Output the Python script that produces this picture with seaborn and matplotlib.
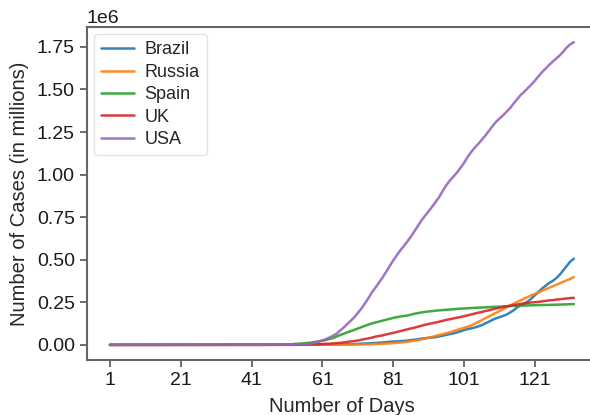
import numpy as np
import pandas as pd
import matplotlib
matplotlib.use("Agg")
import matplotlib.pyplot as plt
import seaborn as sns

countries = ["Brazil", "Russia", "Spain", "UK", "USA"]

# cumulative cases in thousands, day 1 .. day 132
zeros_40 = [0.0] * 40

brazil = zeros_40 + [
    0.0, 0.0, 0.0, 0.0, 0.0, 0.0, 0.0, 0.0, 0.0, 0.0, 0.0, 0.1, 0.2, 0.2, 0.2, 0.2,
    0.3, 0.4, 0.6, 0.8, 1.0, 1.5, 1.9, 2.2, 2.6, 3.0, 3.4, 3.9, 4.3, 4.6, 5.7,
    6.8, 8.0, 9.1, 10.4, 11.1, 12.2, 14.0, 16.2, 18.1, 19.6, 20.7, 22.2, 23.4, 25.3, 28.3,
    30.4, 33.7, 36.7, 38.7, 40.7, 43.1, 45.8, 50.0, 54.0, 59.3, 63.1, 67.4, 73.2, 79.7, 87.2,
    92.2, 97.1, 101.8, 108.6, 115.5, 126.6, 135.8, 146.9, 156.1, 162.7, 169.6, 178.2, 190.1,
    203.2, 220.3, 233.5, 241.1, 255.4, 271.9, 291.6, 310.1, 330.9, 347.4, 363.2, 374.9,
    391.2, 411.8, 438.2, 465.2, 490.0, 506.0]

russia = zeros_40 + [
    0.0, 0.0, 0.0, 0.0, 0.0, 0.0, 0.0, 0.0, 0.0, 0.0, 0.0, 0.0, 0.0, 0.0, 0.1, 0.1,
    0.1, 0.1, 0.1, 0.2, 0.3, 0.3, 0.4, 0.4, 0.5, 0.7, 0.8, 1.0, 1.3, 1.5, 1.8,
    2.3, 2.8, 3.5, 4.1, 4.7, 5.4, 6.3, 7.5, 8.7, 10.1, 11.9, 13.6, 15.8, 18.3, 21.1,
    24.5, 27.9, 32.0, 36.8, 42.9, 47.1, 52.8, 58.0, 62.8, 68.6, 74.6, 80.9, 87.1, 93.6, 99.4,
    106.5, 114.4, 124.1, 134.7, 145.3, 155.4, 165.9, 177.2, 187.9, 198.7, 209.7, 221.3, 232.2,
    242.3, 252.2, 262.8, 272.0, 281.8, 290.7, 299.9, 308.7, 317.6, 326.4, 335.9, 344.5,
    353.4, 362.3, 370.7, 379.1, 387.6, 398.0]

spain = zeros_40 + [
    0.1, 0.1, 0.2, 0.2, 0.3, 0.4, 0.5, 0.7, 1.1, 1.7, 2.3, 2.3, 5.2, 6.4, 7.8, 9.9,
    11.7, 13.9, 18.0, 20.4, 25.4, 28.6, 35.1, 39.9, 49.5, 57.8, 65.7, 73.2, 80.1, 88.0, 95.9,
    104.1, 112.1, 119.2, 126.2, 131.6, 136.7, 141.9, 148.2, 153.2, 158.3, 163.0, 166.8, 170.1,
    172.5, 177.6, 182.9, 186.8, 190.7, 193.7, 196.2, 198.7, 200.9, 202.9, 204.5, 205.9, 207.6,
    209.5, 210.8, 212.9, 213.4,
    215.2, 216.6, 217.5, 218.0, 219.3, 220.3, 221.4, 222.9, 223.6, 224.4, 225.9, 227.3, 228.4,
    229.5, 230.2, 230.7, 231.1, 231.6, 232.0, 232.6, 233.0, 233.9, 234.6, 235.1, 235.4,
    236.0, 236.6, 237.4, 238.3, 239.0, 239.5]

uk = zeros_40 + [
    0.0, 0.0, 0.1, 0.1, 0.1, 0.2, 0.2, 0.3, 0.3, 0.4, 0.5, 0.5, 0.8, 1.1, 1.1, 1.6,
    2.0, 2.6, 2.7, 4.0, 5.1, 5.7, 6.7, 8.2, 9.6, 11.8, 14.7, 17.3, 19.8, 22.5, 25.5,
    29.9, 34.2, 38.7, 42.5, 48.4, 52.3, 55.9, 61.5, 65.9, 70.6, 75.9, 81.2, 86.6, 91.8, 96.5,
    101.1, 106.8, 112.3, 118.2, 122.9, 127.2, 131.6, 136.2, 141.6, 146.6, 151.0, 155.3, 159.4,
    163.4, 168.5,
    173.7, 178.5, 183.8, 188.8, 193.2, 198.4, 204.0, 208.6, 213.5, 218.4, 222.3, 226.7, 230.0,
    233.4, 237.0, 240.5, 244.0, 246.7, 249.1, 250.6, 252.2, 255.5, 258.5, 260.9, 262.5,
    265.6, 268.0, 270.5, 272.8, 274.8, 276.3]

usa = zeros_40 + [
    0.1, 0.1, 0.1, 0.2, 0.2, 0.3, 0.4, 0.5, 0.6, 1.0, 1.3, 1.7, 2.2, 2.7, 3.5, 4.6,
    6.4, 7.8, 13.7, 19.1, 25.5, 33.3, 43.8, 53.7, 65.8, 83.8, 101.7, 121.5, 140.9, 161.8, 188.2,
    213.2, 243.6, 275.4, 308.9, 337.1, 366.7, 396.2, 429.1, 462.8, 496.5, 526.4, 555.3, 580.6,
    607.7, 636.4, 667.8, 699.7, 732.2, 759.1, 784.3, 811.9, 840.4, 869.2, 905.4, 938.2, 965.8,
    988.2, 1012.6, 1039.9, 1069.4,
    1103.5, 1132.5, 1158.0, 1180.4, 1204.4, 1229.3, 1257.0, 1283.9, 1309.5, 1329.3, 1347.9,
    1369.4, 1390.8, 1417.8, 1442.8, 1467.9, 1486.8, 1508.3, 1528.6, 1551.9, 1577.3, 1601.4,
    1622.7, 1643.2, 1662.8, 1681.4, 1699.9, 1721.8, 1747.1, 1765.0, 1778.0]

days = list(range(1, len(usa) + 1))
x_ticks = [1, 21, 41, 61, 81, 101, 121]

series = {"Brazil": brazil, "Russia": russia, "Spain": spain, "UK": uk, "USA": usa}
frames = []
for name in countries:
    vals = np.array(series[name]) * 1000.0
    frames.append(pd.DataFrame({"day": days, "cases": vals, "country": name}))
df = pd.concat(frames, ignore_index=True)

sns.set_style("ticks")
plt.rcParams["font.family"] = ["Liberation Sans", "DejaVu Sans"]

fig = plt.figure(figsize=(5.9, 4.15), dpi=100)
ax = fig.add_axes([0.147, 0.1325, 0.865, 0.8025])

sns.lineplot(data=df, x="day", y="cases", hue="country", hue_order=countries,
             palette="tab10", linewidth=1.8, alpha=0.9, ax=ax)

ax.set_xticks(x_ticks)
ax.set_xlabel("Number of Days", fontsize=14.5, labelpad=6)
ax.set_ylabel("Number of Cases (in millions)", fontsize=14.5, labelpad=6)
ax.tick_params(axis="both", labelsize=14, colors="#555555", labelcolor="#1a1a1a",
               length=5, width=1.2)
ax.yaxis.get_offset_text().set_fontsize(14)
for sp in ax.spines.values():
    sp.set_color("#666666")
    sp.set_linewidth(1.5)
ax.spines["right"].set_visible(False)

leg = ax.legend(loc="upper left", fontsize=13, frameon=True, title=None,
                handlelength=1.8, handletextpad=0.6, borderpad=0.4,
                labelspacing=0.3, borderaxespad=0.4)
leg.get_frame().set_edgecolor("#dddddd")

fig.savefig("out.png", dpi=100)
